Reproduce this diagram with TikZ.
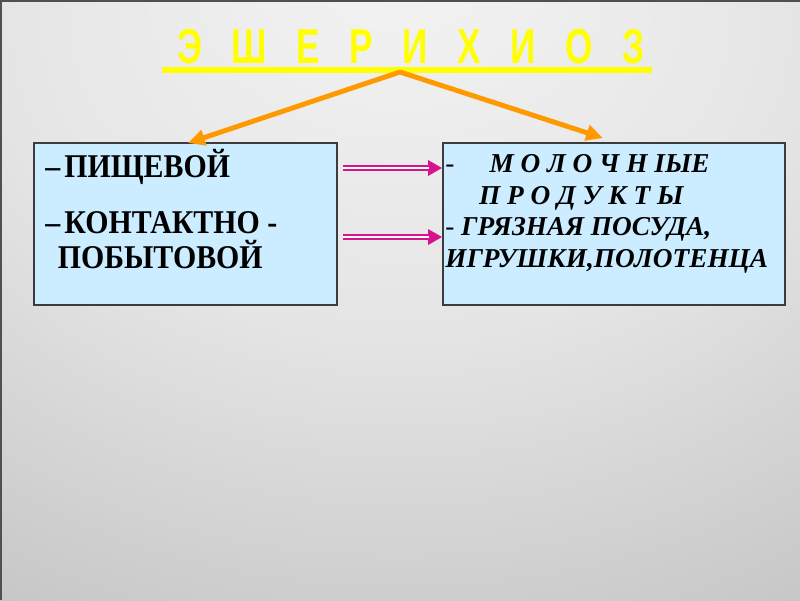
\documentclass[tikz,border=0pt]{standalone}
\usepackage{fontspec}
\setmainfont{Liberation Serif}
\newfontfamily\titlefont[FakeStretch=0.72]{Liberation Sans}
\newfontfamily\leftfont[FakeStretch=0.9]{Liberation Serif}
\newfontfamily\rightfont{Liberation Serif}
\usetikzlibrary{arrows.meta,calc}

\definecolor{titleyellow}{RGB}{255,255,0}
\definecolor{arcorange}{RGB}{255,153,0}
\definecolor{arcpink}{RGB}{214,18,140}
\definecolor{boxblue}{RGB}{204,236,255}
\definecolor{boxedge}{RGB}{60,60,60}
\definecolor{bgA}{RGB}{244,244,244}
\definecolor{bgM}{RGB}{229,229,229}
\definecolor{bgB}{RGB}{156,156,156}
\definecolor{frame}{RGB}{80,80,80}
\pgfdeclareradialshading{slidebg}{\pgfpoint{0bp}{30bp}}{color(0bp)=(bgA); color(25bp)=(bgM); color(80bp)=(bgB); color(100bp)=(bgB)}

\begin{document}
\begin{tikzpicture}[x=0.025cm, y=-0.025cm]
%% the figure uses pixel units: x to the right, y downwards (800 x 600)
%% multi-line texts are placed by the baseline of their last line
\tikzstyle{titletext}=[anchor=base west, inner sep=0pt, text=titleyellow,
  font={\titlefont\bfseries\fontsize{34.8}{36}\selectfont\spaceskip=21pt\relax}]
\tikzstyle{titleline}=[titleyellow, line width=3.6pt]
\tikzstyle{box}=[draw=boxedge, fill=boxblue, line width=1pt, minimum height=4.05cm, inner sep=0pt]
\tikzstyle{lefttext}=[anchor=base west, inner sep=0pt, align=left,
  font={\leftfont\bfseries\fontsize{23.6}{24.5}\selectfont}]
\tikzstyle{righttext}=[anchor=base west, inner sep=0pt, align=left,
  font={\rightfont\bfseries\itshape\fontsize{19.4}{22.3}\selectfont}]
\tikzstyle{orangearc}=[-{Triangle[length=12pt,width=11pt]}, arcorange, line width=3.5pt]
\tikzstyle{pinkarc}=[-{Triangle[length=10pt,width=10.5pt]}, draw=arcpink, line width=4.8pt,
  postaction={draw=white, line width=1pt, shorten >=9.5pt, -}]
%% background of the slide
\useasboundingbox (0,0) rectangle (800,600);
\shade[shading=slidebg] (0,0) rectangle (800,600);
\draw[frame, line width=1.6pt] (1,600) -- (1,1) -- (800,1);
%% title and its underline
\node[titletext] at (177,63) (Title) {Э Ш Е Р И Х И О З};
\draw[titleline] (162,70) -- (652,70);
%% the two boxes
\node[box, minimum width=7.575cm] at (185.5,224) (LeftBox) {};
\node[box, minimum width=8.55cm] at (614,224) (RightBox) {};
%% text of the left box
\node[lefttext] at (45,177) (Food) {–\hspace{3pt}ПИЩЕВОЙ};
\node[lefttext] at (45,268) (Contact) {–\hspace{3pt}КОНТАКТНО -\\\hspace{9pt}ПОБЫТОВОЙ};
%% text of the right box
\node[righttext] at (445,267) (Items) {{\mdseries\upshape -}\hspace{25pt}М О Л О Ч Н IЫЕ\\
  \hspace{24pt}П Р О Д У К Т Ы\\
  {\mdseries\upshape -} ГРЯЗНАЯ ПОСУДА,\\
  ИГРУШКИ,ПОЛОТЕНЦА};
%% arcs from the title
\coordinate (Apex) at (400,72);
\coordinate (LeftIn) at (188,143);
\coordinate (RightIn) at (603,138);
\draw[orangearc] (Apex) -- (LeftIn);
\draw[orangearc] (Apex) -- (RightIn);
%% arcs between the boxes
\coordinate (FoodOut) at (343,168);
\coordinate (ContactOut) at (343,237);
\draw[pinkarc] (FoodOut) -- (FoodOut -| RightBox.west);
\draw[pinkarc] (ContactOut) -- (ContactOut -| RightBox.west);
\end{tikzpicture}
\end{document}
